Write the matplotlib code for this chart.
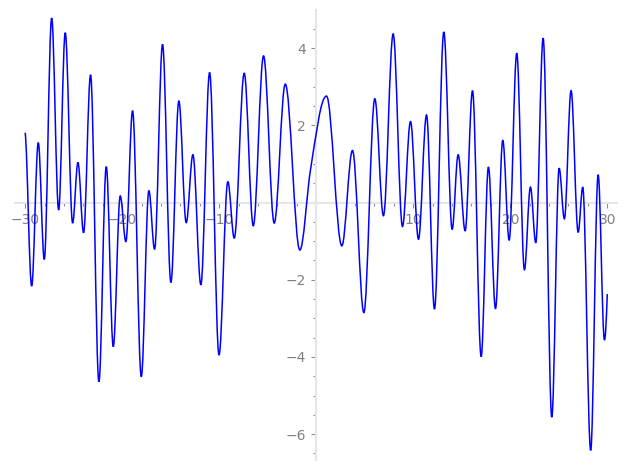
import numpy as np
import matplotlib
matplotlib.use("Agg")
import matplotlib.pyplot as plt
from matplotlib.path import Path
from matplotlib.patches import PathPatch
from matplotlib.ticker import MultipleLocator, FixedLocator

# knots: local extrema (slope 0) plus a few extra points
knot_x = [-30.0, -29.33, -28.65, -28.03, -27.27, -26.55, -25.87, -25.11, -24.56, -23.98,
          -23.26, -22.40, -21.64, -20.92, -20.20, -19.62, -18.93, -18.03, -17.25, -16.66,
          -15.84, -14.98, -14.16, -13.40, -12.71, -11.89, -10.99, -10.02, -9.11, -8.45,
          -7.42, -6.49, -5.43, -4.33, -3.19, -1.69, -0.59, 1.06, 2.64, 3.74,
          4.91, 6.04, 6.93, 7.93, 8.89, 9.72, 10.54, 11.37, 12.19, 13.15,
          14.01, 14.63, 15.35, 16.11, 17.00, 17.75, 18.48, 19.23, 19.89, 20.67,
          21.46, 22.08, 22.63, 23.39, 24.28, 25.04, 25.58, 26.27, 27.00, 27.47,
          28.29, 29.06, 29.71, 30.0]
knot_y = [1.81, -2.16, 1.55, -1.47, 4.78, -0.19, 4.40, -0.53, 1.04, -0.78,
          3.31, -4.64, 0.93, -3.73, 0.17, -1.01, 2.38, -4.51, 0.31, -1.21,
          4.10, -2.07, 2.63, -0.52, 1.24, -2.13, 3.37, -3.95, 0.54, -0.92,
          3.35, -0.60, 3.80, -0.53, 3.07, -1.23, 0.85, 2.76, -1.12, 1.35,
          -2.85, 2.69, -0.34, 4.37, -0.62, 2.10, -0.95, 2.27, -2.76, 4.42,
          -0.69, 1.24, -0.73, 2.90, -3.99, 0.92, -2.75, 1.61, -0.97, 3.87,
          -1.74, 0.40, -1.04, 4.26, -5.56, 0.89, -0.42, 2.90, -0.77, 0.40,
          -6.42, 0.72, -3.56, -2.37]
knot_slope = [0.0] * len(knot_x)
knot_slope[0] = -2.0     # curve starts just past a top
knot_slope[36] = 1.55    # shoulder near the origin
knot_slope[-1] = 7.0     # still rising at the end

# smooth curve through the knots, drawn as cubic bezier segments
verts = [(knot_x[0], knot_y[0])]
codes = [Path.MOVETO]
for i in range(len(knot_x) - 1):
    x0, y0, s0 = knot_x[i], knot_y[i], knot_slope[i]
    x1, y1, s1 = knot_x[i + 1], knot_y[i + 1], knot_slope[i + 1]
    h = 0.36 * (x1 - x0)
    verts += [(x0 + h, y0 + s0 * h), (x1 - h, y1 - s1 * h), (x1, y1)]
    codes += [Path.CURVE4] * 3

fig = plt.figure(figsize=(6.27, 4.70), dpi=100)
ax = fig.add_axes([0.0239, 0.0213, 0.9601, 0.9574])

ax.add_patch(PathPatch(Path(verts, codes), fill=False, edgecolor="#0000ff", lw=1.1, zorder=3))

ax.set_xlim(-31.05, 31.0)
ax.set_ylim(-6.67, 4.99)

# axes through the origin, sage-like look
for side in ["top", "right"]:
    ax.spines[side].set_visible(False)
for side in ["left", "bottom"]:
    ax.spines[side].set_position(("data", 0))
    ax.spines[side].set_color("#e6e6e6")
    ax.spines[side].set_linewidth(1.5)

ax.xaxis.set_major_locator(FixedLocator([-30, -20, -10, 10, 20, 30]))
ax.xaxis.set_minor_locator(MultipleLocator(2))
ax.yaxis.set_major_locator(FixedLocator([-6, -4, -2, 2, 4]))
ax.yaxis.set_minor_locator(MultipleLocator(0.5))

ax.tick_params(which="both", direction="out", color="#8c8c8c", width=0.8)
ax.tick_params(which="major", length=3.5, labelsize=10, labelcolor="#808080", pad=4)
ax.tick_params(which="minor", length=2.5)

fig.savefig("out.png", dpi=100)
